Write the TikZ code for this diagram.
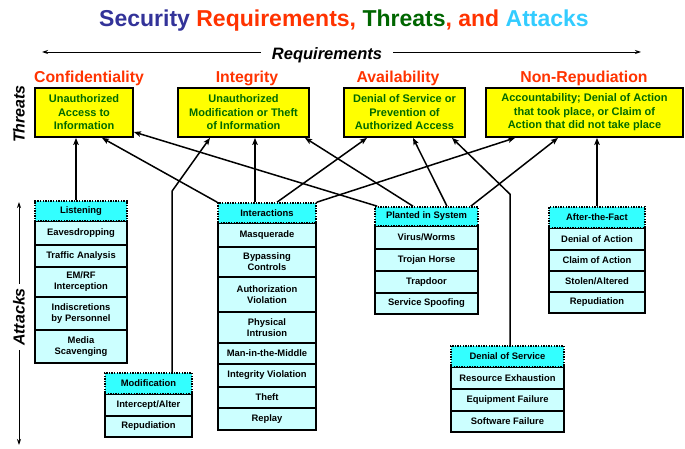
\documentclass[tikz,border=0pt]{standalone}
\usepackage{fontspec}
\setmainfont{Liberation Sans}
\usetikzlibrary{arrows.meta,calc}
\definecolor{reqred}{HTML}{FF3300}
\definecolor{secblue}{HTML}{333399}
\definecolor{thrgreen}{HTML}{006600}
\definecolor{attcyan}{HTML}{33CCFF}
\definecolor{hdrcyan}{HTML}{33FFFF}
\definecolor{itemcyan}{HTML}{CCFFFF}
\definecolor{thryellow}{HTML}{FFFF00}
\definecolor{txtgreen}{HTML}{006A00}
\tikzset{
 threatbox/.style={draw=black, line width=1.8pt, fill=thryellow, text=txtgreen, align=center,
   font=\fontsize{11}{13.5}\selectfont\bfseries, inner sep=0pt, minimum height=49pt},
 itembox/.style={draw=black, line width=1.4pt, fill=itemcyan, align=center,
   font=\fontsize{9.4}{11}\selectfont\bfseries, inner sep=0pt},
 hdrbox/.style={draw=black, line width=1.6pt, dash pattern=on 1.4pt off 1.2pt, fill=hdrcyan,
   font=\fontsize{9.4}{11}\selectfont\bfseries, inner sep=0pt},
 conn/.style={line width=1.5pt, -{Stealth[length=7pt,width=5.5pt,inset=1.5pt]}},
 reqlabel/.style={text=reqred, font=\fontsize{15.8}{16}\selectfont\bfseries, anchor=base},
 axisarrow/.style={line width=0.9pt, -{Stealth[length=6pt,width=4pt]}},
 sidelabel/.style={font=\fontsize{16}{16}\selectfont\bfseries\itshape, rotate=90, inner sep=3pt}
}
\begin{document}
\begin{tikzpicture}[x=1pt,y=-1pt]
\fill[white] (0,0) rectangle (685,449);
\useasboundingbox (0,0) rectangle (685,449);

% title
\node[anchor=base, font=\fontsize{23}{23}\selectfont\bfseries] (title) at (344,27)
 {\textcolor{secblue}{Security} \textcolor{reqred}{Requirements,} \textcolor{thrgreen}{Threats}\textcolor{reqred}{, and} \textcolor{attcyan}{Attacks}};

% requirements axis
\node[anchor=base, font=\fontsize{16.5}{17}\selectfont\bfseries\itshape, inner xsep=11pt] (reqs) at (327,60) {Requirements};
\coordinate (reqL) at (42,52);
\coordinate (reqR) at (641,52);
\draw[axisarrow] (reqs.west |- reqL) -- (reqL);
\draw[axisarrow] (reqs.east |- reqR) -- (reqR);

% requirement labels
\node[reqlabel] (rc) at (89,83) {Confidentiality};
\node[reqlabel] (ri) at (247,83) {Integrity};
\node[reqlabel] (ra) at (398,83) {Availability};
\node[reqlabel] (rn) at (584,83) {Non-Repudiation};

% side labels
\node[sidelabel] (thr) at (19,114) {Threats};
\node[sidelabel, inner xsep=4pt] (att) at (19,317) {Attacks};
\coordinate (attT) at (19,202);
\coordinate (attB) at (19,445);
\draw[axisarrow] (att.east) -- (attT);
\draw[axisarrow] (att.west) -- (attB);

% threats
\node[threatbox, minimum width=98pt] (t1) at (84,112.5) {Unauthorized\\Access to\\Information};
\node[threatbox, minimum width=131pt] (t2) at (243.5,112.5) {Unauthorized\\Modification or Theft\\of Information};
\node[threatbox, minimum width=121pt] (t3) at (404.5,112.5) {Denial of Service or\\Prevention of\\Authorized Access};
\node[threatbox, minimum width=197pt] (t4) at (584.5,112.5) {Accountability; Denial of Action\\that took place, or Claim of\\Action that did not take place};

% Listening
\begin{scope}[every node/.append style={minimum width=92pt}]
\node[itembox, minimum height=24pt] (l1) at (81,233) {Eavesdropping};
\node[itembox, minimum height=22pt] (l2) at (81,256) {Traffic Analysis};
\node[itembox, minimum height=30pt] (l3) at (81,282) {EM/RF\\Interception};
\node[itembox, minimum height=33pt] (l4) at (81,313.5) {Indiscretions\\by Personnel};
\node[itembox, minimum height=33pt] (l5) at (81,346.5) {Media\\Scavenging};
\node[hdrbox, minimum height=20pt] (lh) at (81,211) {Listening};
\end{scope}

% Modification
\begin{scope}[every node/.append style={minimum width=87pt}]
\node[itembox, minimum height=22pt] (m1) at (148.5,405) {Intercept/Alter};
\node[itembox, minimum height=21pt] (m2) at (148.5,426.5) {Repudiation};
\node[hdrbox, minimum height=21pt] (mh) at (148.5,383.5) {Modification};
\end{scope}

% Interactions
\begin{scope}[every node/.append style={minimum width=98pt}]
\node[itembox, minimum height=24pt] (i1) at (267,235) {Masquerade};
\node[itembox, minimum height=30pt] (i2) at (267,262) {Bypassing\\Controls};
\node[itembox, minimum height=35pt] (i3) at (267,294.5) {Authorization\\Violation};
\node[itembox, minimum height=31pt] (i4) at (267,327.5) {Physical\\Intrusion};
\node[itembox, minimum height=21pt] (i5) at (267,353.5) {Man-in-the-Middle};
\node[itembox, minimum height=23pt] (i6) at (267,375.5) {Integrity Violation};
\node[itembox, minimum height=21pt] (i7) at (267,397.5) {Theft};
\node[itembox, minimum height=22pt] (i8) at (267,419) {Replay};
\node[hdrbox, minimum height=20pt] (ih) at (267,213) {Interactions};
\end{scope}

% Planted in System
\begin{scope}[every node/.append style={minimum width=103pt}]
\node[itembox, minimum height=23pt] (p1) at (426.5,237.5) {Virus/Worms};
\node[itembox, minimum height=22pt] (p2) at (426.5,260) {Trojan Horse};
\node[itembox, minimum height=22pt] (p3) at (426.5,282) {Trapdoor};
\node[itembox, minimum height=21pt] (p4) at (426.5,303.5) {Service Spoofing};
\node[hdrbox, minimum height=19pt] (ph) at (426.5,216.5) {Planted in System};
\end{scope}

% After-the-Fact
\begin{scope}[every node/.append style={minimum width=96pt}]
\node[itembox, minimum height=22pt] (a1) at (597,239) {Denial of Action};
\node[itembox, minimum height=21pt] (a2) at (597,260.5) {Claim of Action};
\node[itembox, minimum height=21pt] (a3) at (597,281.5) {Stolen/Altered};
\node[itembox, minimum height=21pt] (a4) at (597,302.5) {Repudiation};
\node[hdrbox, minimum height=21pt] (ah) at (597,217.5) {After-the-Fact};
\end{scope}

% Denial of Service
\begin{scope}[every node/.append style={minimum width=113pt}]
\node[itembox, minimum height=22pt] (d1) at (507.5,378) {Resource Exhaustion};
\node[itembox, minimum height=22pt] (d2) at (507.5,400) {Equipment Failure};
\node[itembox, minimum height=21pt] (d3) at (507.5,421.5) {Software Failure};
\node[hdrbox, minimum height=21pt] (dh) at (507.5,356.5) {Denial of Service};
\end{scope}

% connectors
\draw[conn] ([xshift=-5pt]lh.north) -- ([xshift=-5pt]lh.north |- t1.south);
\draw[conn] ([xshift=23.5pt]mh.north) -- ++(0,-181) -- ([xshift=-33.5pt]t2.south);
\draw[conn] (ih.north west) -- ([xshift=18pt]t1.south);
\draw[conn] ([xshift=-12pt]ih.north) -- ([xshift=-12pt]ih.north |- t2.south);
\draw[conn] ([xshift=10pt]ih.north) -- ([xshift=-37.5pt]t3.south);
\draw[conn] (ih.north east) -- ([xshift=-69.5pt]t4.south);
\draw[conn] ([xshift=3pt]ph.north west) -- ([yshift=-19.5pt]t1.east);
\draw[conn] ([xshift=-13.5pt]ph.north) -- ([xshift=61.5pt]t2.south);
\draw[conn] ([xshift=20.5pt]ph.north) -- ([xshift=8.5pt]t3.south);
\draw[conn] ([xshift=-8pt]ph.north east) -- ([xshift=-26.5pt]t4.south);
\draw[conn] ([xshift=2.5pt]dh.north) -- ++(0,-151) -- ([xshift=47.5pt]t3.south);
\draw[conn] (ah.north) -- (ah.north |- t4.south);
\end{tikzpicture}
\end{document}
